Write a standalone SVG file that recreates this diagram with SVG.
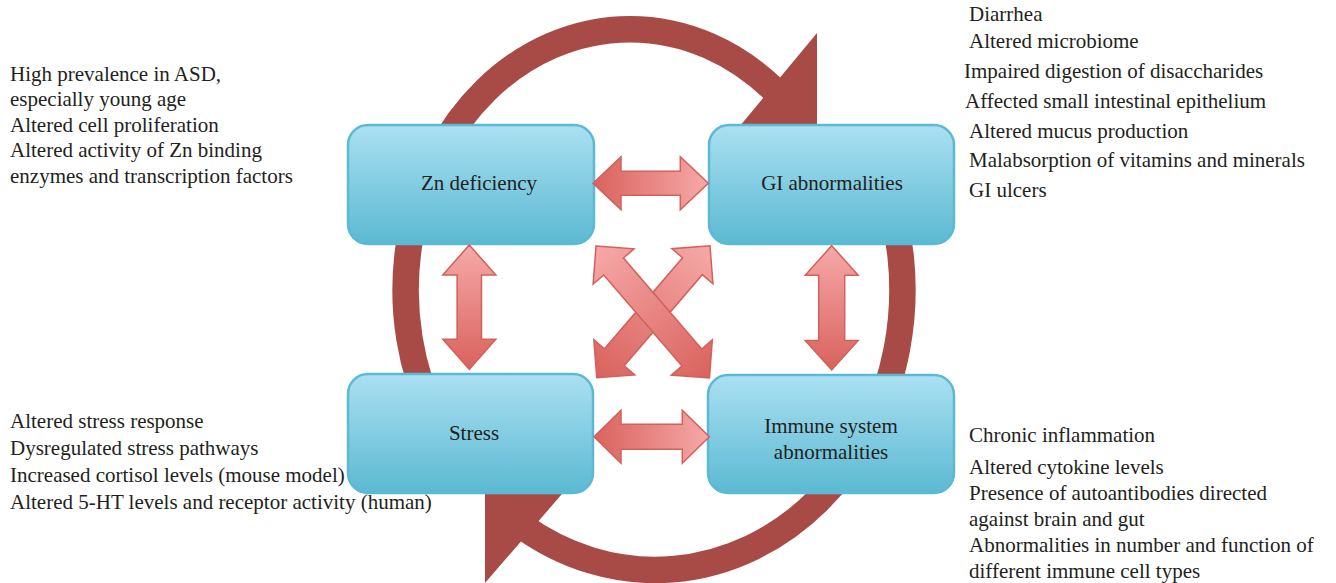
<svg xmlns="http://www.w3.org/2000/svg" width="1336" height="583" viewBox="0 0 1336 583">
<style>
.ring{fill:none;stroke:#a84b47;stroke-width:26.5}
.head{fill:#a84b47}
.box rect{stroke:#5bbad3;stroke-width:2.5;fill:url(#boxg)}
.lbl{font-family:"Liberation Serif","Times New Roman",serif;font-size:21px;fill:#231f20}
.mid{text-anchor:middle}
.arr{stroke:#d2605b;stroke-width:1.5;stroke-linejoin:miter}
</style>
<defs>
<linearGradient id="boxg" x1="0" y1="0" x2="0" y2="1">
<stop offset="0" stop-color="#abe0f2"/>
<stop offset="1" stop-color="#5bb9d2"/>
</linearGradient>
<linearGradient id="gDL" x1="0" y1="0" x2="1" y2="0">
<stop offset="0" stop-color="#d9625d"/>
<stop offset="1" stop-color="#f6a9a8"/>
</linearGradient>
<linearGradient id="gLD" x1="0" y1="0" x2="1" y2="0">
<stop offset="0" stop-color="#f6a9a8"/>
<stop offset="1" stop-color="#d9625d"/>
</linearGradient>
</defs>

<g id="cycle">
<path class="ring" d="M 435.6 420.5 A 224.5 261 0 0 1 774.3 90.1"/>
<polygon class="head" points="817,33 817,150 720,150"/>
<path class="ring" d="M 879.3 171.7 A 247.5 280 0 0 1 520.2 524.8"/>
<polygon class="head" points="485,583 485,465 587,465"/>
</g>

<g id="zn" class="box">
<rect x="348" y="125" width="246" height="119" rx="20"/>
<text class="lbl mid" x="479" y="190">Zn deficiency</text>
</g>
<g id="gi" class="box">
<rect x="709" y="125" width="245" height="119" rx="20"/>
<text class="lbl mid" x="832" y="190">GI abnormalities</text>
</g>
<g id="stress" class="box">
<rect x="348" y="374" width="245" height="119" rx="20"/>
<text class="lbl mid" x="474" y="440">Stress</text>
</g>
<g id="immune" class="box">
<rect x="708" y="375" width="246" height="118" rx="20"/>
<text class="lbl mid" x="831" y="433">Immune system</text>
<text class="lbl mid" x="831" y="459">abnormalities</text>
</g>

<g id="connectors">
<polygon class="arr" fill="url(#gDL)" transform="translate(593,183.3)" points="0,0 28,-26.5 28,-12 87.3,-12 87.3,-26.5 115.3,0 87.3,26.5 87.3,12 28,12 28,26.5"/>
<polygon class="arr" fill="url(#gDL)" transform="translate(594,436.7)" points="0,0 27,-26.5 27,-12.5 88.3,-12.5 88.3,-26.5 115.3,0 88.3,26.5 88.3,12.5 27,12.5 27,26.5"/>
<polygon class="arr" fill="url(#gLD)" transform="translate(469.3,245) rotate(90)" points="0,0 30,-26.5 30,-12.2 94.3,-12.2 94.3,-26.5 124.3,0 94.3,26.5 94.3,12.2 30,12.2 30,26.5"/>
<polygon class="arr" fill="url(#gLD)" transform="translate(831.7,245.7) rotate(90)" points="0,0 29.5,-26.5 29.5,-13 94.8,-13 94.8,-26.5 124.3,0 94.8,26.5 94.8,13 29.5,13 29.5,26.5"/>
<polygon class="arr" fill="url(#gLD)" transform="translate(710,245.7) rotate(130.6)" points="0,0 27,-27 27,-13 147,-13 147,-27 174,0 147,27 147,13 27,13 27,27"/>
<polygon class="arr" fill="url(#gLD)" transform="translate(596,246) rotate(49.3)" points="0,0 27,-27 27,-13 147,-13 147,-27 174,0 147,27 147,13 27,13 27,27"/>
</g>

<g id="zn-notes" class="lbl">
<text x="10" y="81">High prevalence in ASD,</text>
<text x="10" y="106">especially young age</text>
<text x="10" y="131.5">Altered cell proliferation</text>
<text x="10" y="157">Altered activity of Zn binding</text>
<text x="10" y="182.5">enzymes and transcription factors</text>
</g>
<g id="gi-notes" class="lbl">
<text x="969" y="21">Diarrhea</text>
<text x="969" y="48">Altered microbiome</text>
<text x="964" y="77.5">Impaired digestion of disaccharides</text>
<text x="965" y="107.5">Affected small intestinal epithelium</text>
<text x="969" y="137.5">Altered mucus production</text>
<text x="969" y="167">Malabsorption of vitamins and minerals</text>
<text x="969" y="197">GI ulcers</text>
</g>
<g id="stress-notes" class="lbl">
<text x="10" y="428">Altered stress response</text>
<text x="10" y="455">Dysregulated stress pathways</text>
<text x="10" y="481.5">Increased cortisol levels (mouse model)</text>
<text x="10" y="508.5">Altered 5-HT levels and receptor activity (human)</text>
</g>
<g id="immune-notes" class="lbl">
<text x="969" y="442">Chronic inflammation</text>
<text x="969" y="474">Altered cytokine levels</text>
<text x="969" y="500">Presence of autoantibodies directed</text>
<text x="969" y="525.5">against brain and gut</text>
<text x="969" y="552">Abnormalities in number and function of</text>
<text x="969" y="578">different immune cell types</text>
</g>
</svg>
